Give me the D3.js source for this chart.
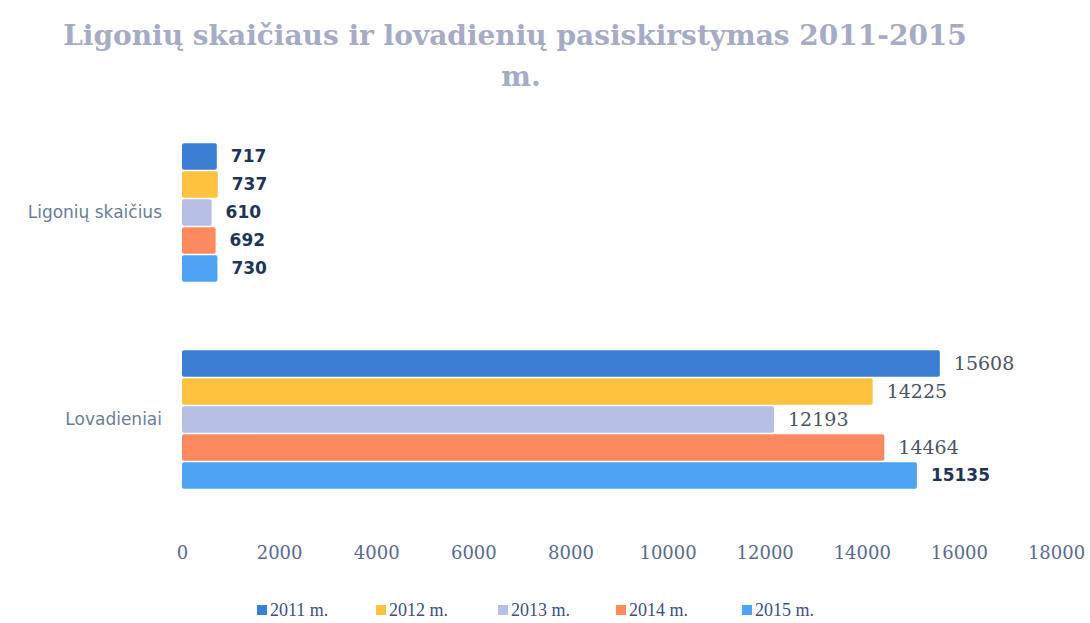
<!DOCTYPE html>
<html>
<head>
<meta charset="utf-8">
<script src="https://cdn.jsdelivr.net/npm/d3@7"></script>
<style>
  body { margin: 0; background: #fff; }
  svg { display: block; }
</style>
</head>
<body>
<svg id="chart" width="1090" height="623"></svg>
<script>
// data
var categories = ["Ligonių skaičius", "Lovadieniai"];
var years = ["2011 m.", "2012 m.", "2013 m.", "2014 m.", "2015 m."];
var ligoniai = [717, 737, 610, 692, 730];
var lovadieniai = [15608, 14225, 12193, 14464, 15135];
var ticks = [0, 2000, 4000, 6000, 8000, 10000, 12000, 14000, 16000, 18000];
var colors = ["#3b7fd4", "#fdc23e", "#b8bfe4", "#fc8a5e", "#4da4f4"];

var seriesByCat = [ligoniai, lovadieniai];

var svg = d3.select("#chart");

var x = d3.scaleLinear().domain([0, 18000]).range([182, 1056]);
var y = d3.scaleBand().domain(categories).range([108, 524]).paddingInner(0.33).paddingOuter(0.17);
var yInner = d3.scaleBand().domain(years).range([0, y.bandwidth()]).paddingInner(0.05);

// title
svg.append("text")
    .attr("x", 515).attr("y", 45)
    .attr("text-anchor", "middle")
    .style("font-family", "DejaVu Serif, serif")
    .style("font-weight", "bold")
    .style("font-size", "28px")
    .style("fill", "#a6abc6")
    .text("Ligonių skaičiaus ir lovadienių pasiskirstymas 2011-2015");
svg.append("text")
    .attr("x", 521).attr("y", 86)
    .attr("text-anchor", "middle")
    .style("font-family", "DejaVu Serif, serif")
    .style("font-weight", "bold")
    .style("font-size", "28px")
    .style("fill", "#a6abc6")
    .text("m.");

// bars
var groups = svg.selectAll("g.cat").data(categories)
    .enter().append("g")
    .attr("class", "cat")
    .attr("transform", d => "translate(0," + y(d) + ")");

groups.each(function(cat, ci) {
    var g = d3.select(this);
    var vals = seriesByCat[ci];
    var bold = i => ci == 0 || i == 4;
    g.selectAll("rect").data(vals).enter().append("rect")
        .attr("x", x(0))
        .attr("y", (d, i) => yInner(years[i]))
        .attr("width", d => x(d) - x(0))
        .attr("height", yInner.bandwidth())
        .attr("rx", 2)
        .attr("fill", (d, i) => colors[i]);

    g.selectAll("text.val").data(vals).enter().append("text")
        .attr("class", "val")
        .attr("x", d => x(d) + 14)
        .attr("y", (d, i) => yInner(years[i]) + yInner.bandwidth() / 2)
        .attr("dy", ".35em")
        .style("font-family", (d, i) => bold(i) ? "DejaVu Sans, sans-serif" : "DejaVu Serif, serif")
        .style("font-weight", (d, i) => bold(i) ? "bold" : "normal")
        .style("font-size", (d, i) => bold(i) ? "17px" : "19px")
        .style("fill", (d, i) => bold(i) ? "#1f3558" : "#4a5566")
        .text(d => d);

    g.append("text")
        .attr("x", 162)
        .attr("y", y.bandwidth() / 2)
        .attr("dy", ".35em")
        .attr("text-anchor", "end")
        .style("font-family", "DejaVu Sans, sans-serif")
        .style("font-size", "17px")
        .style("fill", "#6a7e98")
        .text(cat);
});

// x axis labels
var xAxis = d3.axisBottom(x).tickValues(ticks).tickFormat(d3.format("d")).tickSize(0).tickPadding(0);
var ax = svg.append("g").attr("transform", "translate(0,546)").call(xAxis);
ax.select(".domain").remove();
ax.selectAll("text")
    .style("font-family", "DejaVu Serif, serif")
    .style("font-size", "18px")
    .style("fill", "#5a6a90");

// legend
var legendX = [257, 376, 498, 616, 742];
var leg = svg.selectAll("g.leg").data(years).enter().append("g")
    .attr("class", "leg")
    .attr("transform", (d, i) => "translate(" + legendX[i] + ",610)");
leg.append("rect")
    .attr("x", 0).attr("y", -5)
    .attr("width", 10).attr("height", 10)
    .attr("fill", (d, i) => colors[i]);
leg.append("text")
    .attr("x", 13).attr("y", 0)
    .attr("dy", ".35em")
    .style("font-family", "Liberation Serif, serif")
    .style("font-size", "18px")
    .style("fill", "#3d4f86")
    .text(d => d);
</script>
</body>
</html>
